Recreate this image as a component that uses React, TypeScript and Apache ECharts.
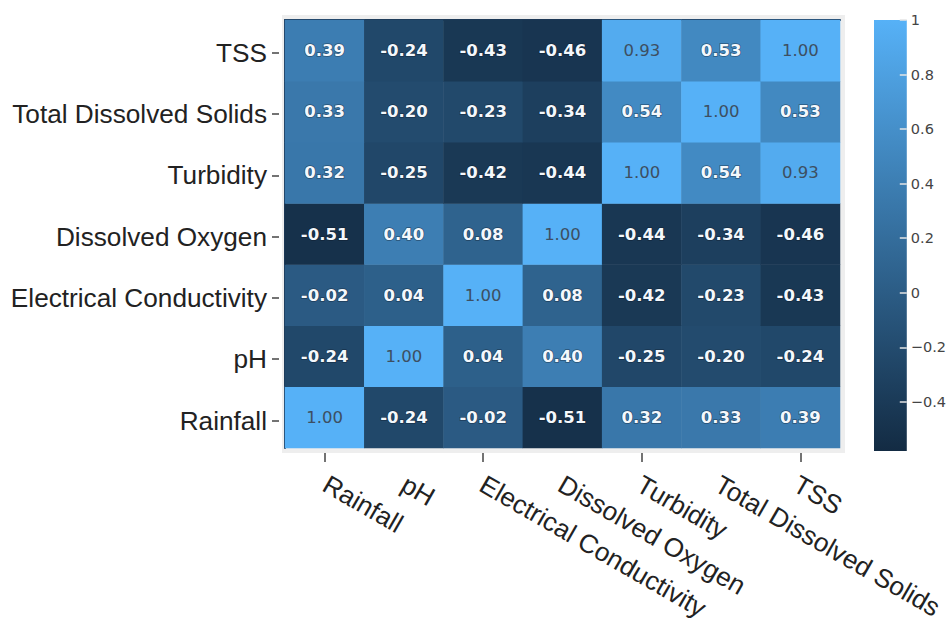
import React, { useEffect, useRef } from "react";
import * as echarts from "echarts";

// Variables, in axis order (x left-to-right, y bottom-to-top)
const categories = [
  "Rainfall",
  "pH",
  "Electrical Conductivity",
  "Dissolved Oxygen",
  "Turbidity",
  "Total Dissolved Solids",
  "TSS",
];

// Correlation rows, one per y category, columns follow `categories`
const rainfallRow = [1.0, -0.24, -0.02, -0.51, 0.32, 0.33, 0.39];
const phRow = [-0.24, 1.0, 0.04, 0.4, -0.25, -0.2, -0.24];
const conductivityRow = [-0.02, 0.04, 1.0, 0.08, -0.42, -0.23, -0.43];
const oxygenRow = [-0.51, 0.4, 0.08, 1.0, -0.44, -0.34, -0.46];
const turbidityRow = [0.32, -0.25, -0.42, -0.44, 1.0, 0.54, 0.93];
const tdsRow = [0.33, -0.2, -0.23, -0.34, 0.54, 1.0, 0.53];
const tssRow = [0.39, -0.24, -0.43, -0.46, 0.93, 0.53, 1.0];

const rows = [rainfallRow, phRow, conductivityRow, oxygenRow, turbidityRow, tdsRow, tssRow];

// Colour scale range and colour bar ticks
const colorMin = -0.58;
const colorMax = 1;
const colorbarTicks = [-0.4, -0.2, 0, 0.2, 0.4, 0.6, 0.8, 1];

const DARK = "#132B43";
const LIGHT = "#56B1F7";
const AXIS_FONT = "'Liberation Sans', Arial, sans-serif";
const CELL_FONT = "'DejaVu Sans', Verdana, sans-serif";

export default function App() {
  const ref = useRef<HTMLDivElement>(null);

  useEffect(() => {
    if (!ref.current) return;
    const chart = echarts.init(ref.current, null, { renderer: "svg" });

    const cells: any[] = [];
    rows.forEach((row, yi) => {
      row.forEach((v, xi) => {
        const light = v >= 0.9;
        cells.push({
          value: [xi, yi, v],
          label: light
            ? { color: "#3d4f62", fontWeight: "normal", textBorderWidth: 0 }
            : {
                color: "#f4f8fc",
                fontWeight: "bold",
                textBorderColor: "rgba(12,22,36,0.45)",
                textBorderWidth: 1.5,
              },
        });
      });
    });

    const barGradient = new echarts.graphic.LinearGradient(0, 0, 0, 1, [
      { offset: 0, color: LIGHT },
      { offset: 1, color: DARK },
    ]);

    const option: any = {
      animation: false,
      backgroundColor: "#ffffff",
      graphic: [
        {
          type: "rect",
          z: -10,
          silent: true,
          shape: { x: 282, y: 15, width: 563, height: 438 },
          style: { fill: "#eeeeee" },
        },
      ],
      grid: [
        // heatmap cells
        { left: 285, top: 20, width: 555, height: 428 },
        // category labels
        { left: 286, top: 22, width: 549, height: 435 },
        // colour bar
        {
          left: 874,
          top: 20,
          width: 36,
          height: 431,
          show: true,
          borderWidth: 0,
          backgroundColor: barGradient,
        },
      ],
      xAxis: [
        {
          gridIndex: 0,
          type: "category",
          data: categories,
          offset: 5,
          axisLine: { show: false },
          axisTick: { show: true, alignWithLabel: true, length: 9, lineStyle: { color: "#444", width: 1.5 } },
          axisLabel: { show: false },
          splitLine: { show: false },
        },
        {
          gridIndex: 1,
          type: "category",
          data: categories,
          axisLine: { show: false },
          axisTick: { show: false },
          axisLabel: {
            interval: 0,
            rotate: -30,
            margin: 31,
            fontSize: 26.2,
            color: "#222",
            fontFamily: AXIS_FONT,
          },
          splitLine: { show: false },
        },
        { gridIndex: 2, type: "category", data: [""], show: false },
        {
          gridIndex: 0,
          type: "category",
          data: categories,
          axisLine: { show: true, lineStyle: { color: "#1d3957", width: 2 } },
          axisTick: { show: false },
          axisLabel: { show: false },
        },
      ],
      yAxis: [
        {
          gridIndex: 0,
          type: "category",
          data: categories,
          axisLine: { show: true, lineStyle: { color: "#1d3957", width: 2 } },
          axisTick: { show: false },
          axisLabel: { show: false },
          splitLine: { show: false },
        },
        {
          gridIndex: 1,
          type: "category",
          data: categories,
          offset: 7,
          axisLine: { show: false },
          axisTick: { show: true, alignWithLabel: true, length: 7, lineStyle: { color: "#444", width: 1.5 } },
          axisLabel: { margin: 12, fontSize: 26.2, color: "#222", fontFamily: AXIS_FONT },
          splitLine: { show: false },
        },
        {
          gridIndex: 2,
          type: "value",
          min: colorMin,
          max: colorMax,
          position: "right",
          axisLine: { show: false },
          splitLine: { show: false },
          axisTick: {
            show: true,
            inside: true,
            length: 7,
            customValues: colorbarTicks,
            lineStyle: { color: "#e4e4e4", width: 1.5 },
          },
          axisLabel: {
            customValues: colorbarTicks,
            margin: 4,
            fontSize: 14.5,
            color: "#444",
            fontFamily: CELL_FONT,
            formatter: (v: number) => {
              const r = Math.round(v * 10) / 10;
              if (!colorbarTicks.some((t) => Math.abs(t - r) < 1e-9) || Math.abs(r - v) > 1e-6) return "";
              const s = r === 0 ? "0" : r === 1 ? "1" : String(r);
              return s.replace("-", "\u2212");
            },
          },
        },
      ],
      visualMap: {
        show: false,
        type: "continuous",
        min: colorMin,
        max: colorMax,
        dimension: 2,
        seriesIndex: 0,
        inRange: { color: [DARK, LIGHT] },
      },
      series: [
        {
          type: "heatmap",
          xAxisIndex: 0,
          yAxisIndex: 0,
          data: cells,
          itemStyle: { borderWidth: 0 },
          label: {
            show: true,
            fontSize: 16.5,
            fontFamily: CELL_FONT,
            formatter: (p: any) => Number(p.value[2]).toFixed(2),
          },
          emphasis: { disabled: true },
        },
      ],
    };

    chart.setOption(option);
    return () => chart.dispose();
  }, []);

  return (
    <div
      ref={ref}
      style={{ position: "fixed", left: 0, top: 0, width: 949, height: 623, background: "#fff" }}
    />
  );
}
